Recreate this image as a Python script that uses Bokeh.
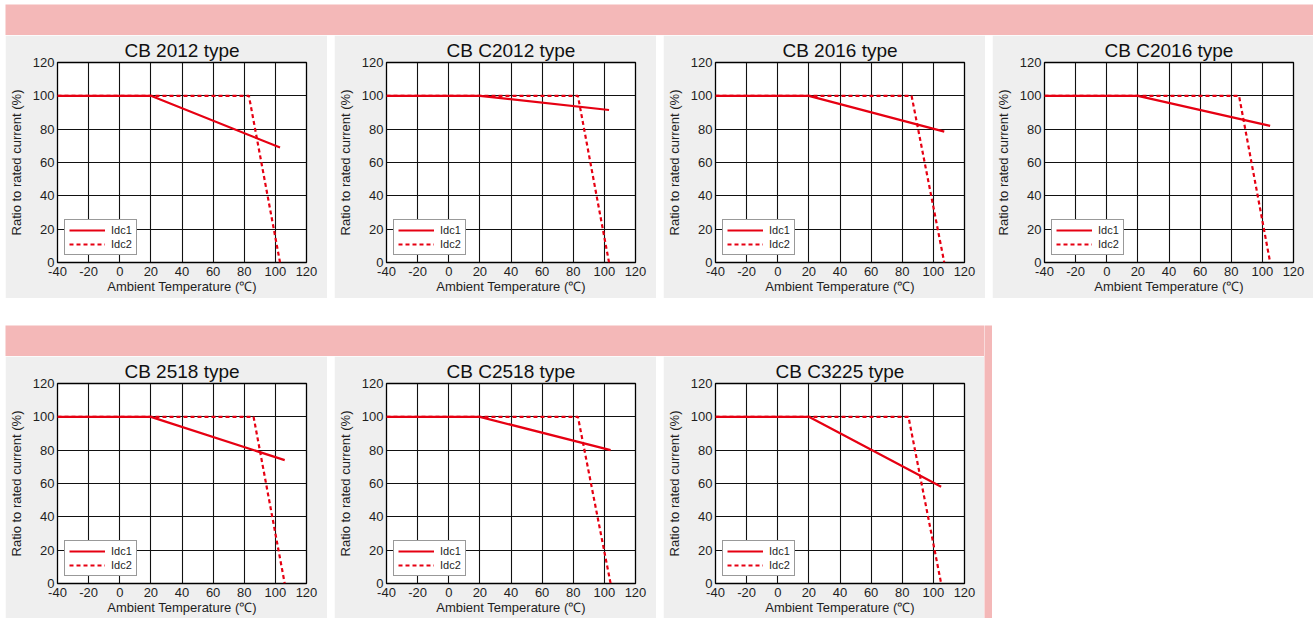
from bokeh.plotting import figure
from bokeh.layouts import row, column
from bokeh.models import FixedTicker, Range1d, Legend, LegendItem, Spacer
from bokeh.embed import file_html
from bokeh.resources import INLINE

# ---------------- data ----------------
titles = ["CB 2012 type", "CB C2012 type", "CB 2016 type", "CB C2016 type",
          "CB 2518 type", "CB C2518 type", "CB C3225 type"]

# Idc1 (solid) : ambient temperature (degC) / ratio to rated current (%)
idc1_temp = [
    [-40, 20, 103],
    [-40, 20, 103],
    [-40, 20, 107],
    [-40, 20, 105],
    [-40, 20, 106],
    [-40, 20, 104],
    [-40, 20, 105],
]
idc1_ratio = [
    [100, 100, 69],
    [100, 100, 91.5],
    [100, 100, 78.5],
    [100, 100, 82],
    [100, 100, 74],
    [100, 100, 80],
    [100, 100, 58],
]
# Idc2 (dashed)
idc2_temp = [
    [-40, 83, 103],
    [-40, 83, 103],
    [-40, 86, 107],
    [-40, 85, 105],
    [-40, 86, 106],
    [-40, 83, 104],
    [-40, 84, 105],
]
idc2_ratio = [
    [100, 100, 0],
    [100, 100, 0],
    [100, 100, 0],
    [100, 100, 0],
    [100, 100, 0],
    [100, 100, 0],
    [100, 100, 0],
]

x_ticks = [-40, -20, 0, 20, 40, 60, 80, 100, 120]
x_tick_labels = ["-40", "-20", "0", "20", "40", "60", "80", "100", "120"]
y_ticks = [0, 20, 40, 60, 80, 100, 120]
x_label = "Ambient Temperature (\u2103)"
y_label = "Ratio to rated current (%)"
series_names = ["Idc1", "Idc2"]

# ---------------- style ----------------
RED = "#e60012"
PINK = "#f4b8b8"
PANEL = "#efefef"
FONT = "Liberation Sans"
TXT = "#1e1e1e"


def make_panel(i, w, h):
    fw, fh = 250, 200
    left, top = 51, 27
    p = figure(width=w, height=h,
               x_range=Range1d(-40, 120), y_range=Range1d(0, 120),
               output_backend="svg", toolbar_location=None,
               min_border_left=left, min_border_right=w - left - fw,
               min_border_top=top, min_border_bottom=h - top - fh)
    p.border_fill_color = PANEL
    p.background_fill_color = "white"
    p.outline_line_color = "black"
    p.outline_line_width = 1.3

    p.title.text = titles[i]
    p.title.align = "center"
    p.title.text_font = FONT
    p.title.text_font_size = "19px"
    p.title.text_font_style = "normal"
    p.title.text_color = "#111111"
    p.title.standoff = 4

    p.xaxis.ticker = FixedTicker(ticks=x_ticks)
    p.xaxis.major_label_overrides = dict(zip(x_ticks, x_tick_labels))
    p.yaxis.ticker = FixedTicker(ticks=y_ticks)
    for ax in (p.xaxis[0], p.yaxis[0]):
        ax.major_tick_line_color = None
        ax.minor_tick_line_color = None
        ax.major_tick_out = 0
        ax.major_tick_in = 0
        ax.minor_tick_out = 0
        ax.minor_tick_in = 0
        ax.axis_line_color = None
        ax.major_label_text_font = FONT
        ax.major_label_text_font_size = "13px"
        ax.major_label_text_color = TXT
        ax.axis_label_text_font = FONT
        ax.axis_label_text_font_size = "13px"
        ax.axis_label_text_font_style = "normal"
        ax.axis_label_text_color = TXT
    p.xaxis.major_label_standoff = 4
    p.yaxis.major_label_standoff = 3
    p.xaxis.axis_label = x_label
    p.yaxis.axis_label = y_label
    p.xaxis.axis_label_standoff = 0
    p.yaxis.axis_label_standoff = 6

    p.xgrid.grid_line_color = "#111111"
    p.ygrid.grid_line_color = "#111111"
    p.xgrid.grid_line_width = 1.1
    p.ygrid.grid_line_width = 1.1

    r1 = p.line(idc1_temp[i], idc1_ratio[i], line_color=RED, line_width=2.2)
    r2 = p.line(idc2_temp[i], idc2_ratio[i], line_color=RED, line_width=2.2,
                line_dash="4 3")

    legend = Legend(items=[LegendItem(label=series_names[0], renderers=[r1]),
                           LegendItem(label=series_names[1], renderers=[r2])],
                    location=(7, 7))
    legend.label_text_font = FONT
    legend.label_text_font_size = "11px"
    legend.label_text_color = TXT
    legend.glyph_width = 36
    legend.glyph_height = 12
    legend.label_height = 12
    legend.label_standoff = 6
    legend.spacing = 2
    legend.padding = 4
    legend.margin = 0
    legend.border_line_color = "#333333"
    legend.border_line_width = 1.2
    legend.background_fill_color = "white"
    legend.background_fill_alpha = 1
    p.add_layout(legend)
    return p


def band(w, h):
    b = figure(width=w, height=h, output_backend="svg", toolbar_location=None,
               x_axis_type=None, y_axis_type=None, min_border=0)
    b.outline_line_color = None
    b.background_fill_color = PINK
    b.border_fill_color = PINK
    b.xgrid.visible = False
    b.ygrid.visible = False
    return b


row1 = row(make_panel(0, 322, 263), make_panel(1, 322, 263),
           make_panel(2, 322, 263), make_panel(3, 321, 263), spacing=7)
row2_panels = row(make_panel(4, 322, 262), make_panel(5, 322, 262),
                  make_panel(6, 321, 262), spacing=7)
row2 = row(column(band(979, 31), row2_panels, spacing=0), band(8, 293), spacing=0)

content = column(band(1308, 31), row1, Spacer(width=10, height=27), row2,
                 spacing=0)
page = column(Spacer(width=10, height=4),
              row(Spacer(width=5, height=10), content, spacing=0),
              spacing=0)

open("out.html", "w").write(file_html(page, INLINE))
